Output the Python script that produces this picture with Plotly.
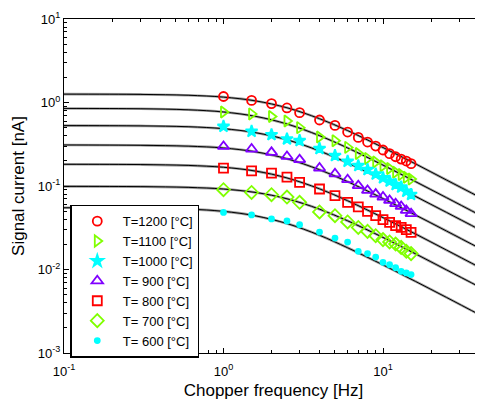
import plotly.graph_objects as go

# measured frequencies [Hz]
freq = [1, 1.5, 2, 2.5, 3, 4, 5, 6, 7, 8, 9, 10, 11, 12, 13, 14, 15]

# signal current [nA] per temperature
i_1200 = [1.18, 1.06, 0.97, 0.86, 0.755, 0.617, 0.532, 0.443, 0.382, 0.336, 0.301, 0.27, 0.244, 0.224, 0.21, 0.199, 0.185]
i_1100 = [0.77, 0.73, 0.68, 0.60, 0.50, 0.386, 0.349, 0.29, 0.245, 0.214, 0.194, 0.175, 0.162, 0.146, 0.137, 0.127, 0.121]
i_1000 = [0.517, 0.451, 0.411, 0.365, 0.349, 0.28, 0.231, 0.197, 0.175, 0.157, 0.139, 0.125, 0.114, 0.104, 0.097, 0.086, 0.079]
i_900 = [0.298, 0.277, 0.253, 0.226, 0.207, 0.164, 0.140, 0.119, 0.101, 0.0886, 0.080, 0.0738, 0.0672, 0.0614, 0.057, 0.051, 0.0467]
i_800 = [0.164, 0.152, 0.143, 0.128, 0.1105, 0.092, 0.0765, 0.0636, 0.0561, 0.0497, 0.0441, 0.0395, 0.0366, 0.0335, 0.0319, 0.030, 0.0278]
i_700 = [0.0903, 0.0838, 0.0787, 0.0738, 0.0637, 0.0489, 0.0441, 0.0371, 0.0319, 0.0286, 0.0254, 0.0228, 0.0214, 0.0202, 0.0184, 0.0165, 0.0155]
i_600 = [0.0483, 0.045, 0.0403, 0.0381, 0.0344, 0.0281, 0.0238, 0.0213, 0.0165, 0.0155, 0.0141, 0.0122, 0.0114, 0.0105, 0.0095, 0.0091, 0.0087]

# fitted curves, sampled along the black lines
fit_freq = [0.1, 0.3, 0.6, 1, 1.6, 2.5, 4, 6, 10, 16, 25, 42.4]
fit_1200 = [1.259, 1.250, 1.221, 1.160, 1.043, 0.865, 0.640, 0.461, 0.289, 0.184, 0.118, 0.070]
fit_1100 = [0.849, 0.842, 0.818, 0.770, 0.681, 0.553, 0.401, 0.2856, 0.1779, 0.1127, 0.0725, 0.0428]
fit_1000 = [0.529, 0.525, 0.513, 0.486, 0.434, 0.358, 0.263, 0.189, 0.1183, 0.0751, 0.0483, 0.0286]
fit_900 = [0.310, 0.307, 0.300, 0.285, 0.256, 0.212, 0.1566, 0.1127, 0.0707, 0.0449, 0.0289, 0.0171]
fit_800 = [0.1818, 0.1806, 0.1764, 0.1676, 0.1506, 0.1249, 0.0925, 0.0666, 0.0418, 0.0266, 0.0171, 0.0101]
fit_700 = [0.0989, 0.0983, 0.0963, 0.0920, 0.0836, 0.0703, 0.0528, 0.0383, 0.0242, 0.0154, 0.0099, 0.00587]
fit_600 = [0.0549, 0.0545, 0.0529, 0.0497, 0.0438, 0.0355, 0.0257, 0.0182, 0.01135, 0.00719, 0.00463, 0.00273]

names = ["T=1200 [°C]", "T=1100 [°C]", "T=1000 [°C]", "T= 900 [°C]", "T= 800 [°C]", "T= 700 [°C]", "T= 600 [°C]"]

x_decades = [-1, 0, 1]
y_decades = [-3, -2, -1, 0, 1]

series = [i_1200, i_1100, i_1000, i_900, i_800, i_700, i_600]
fits = [fit_1200, fit_1100, fit_1000, fit_900, fit_800, fit_700, fit_600]

# marker styles (symbol, colour, size)
styles = [
    ("circle-open", "#ff0000", 9),
    ("triangle-right-open", "#80ff00", 10),
    ("star", "#00ffff", 9),
    ("triangle-up-open", "#8000ff", 10),
    ("square-open", "#ff0000", 9),
    ("diamond-open", "#80ff00", 10),
    ("circle", "#00ffff", 5),
]


def power_label(p):
    return "10<sup>%d</sup>" % p


def minor_vals(decades):
    vals = []
    for d in decades:
        for m in range(2, 10):
            vals.append(m * 10 ** d)
    return vals


fig = go.Figure()

for f in fits:
    fig.add_trace(go.Scatter(x=fit_freq, y=f, mode='lines', showlegend=False,
                             line=dict(color='rgb(160,160,160)', width=2.6, shape='spline'),
                             hoverinfo='skip'))
    fig.add_trace(go.Scatter(x=fit_freq, y=f, mode='lines', showlegend=False,
                             line=dict(color='black', width=1, shape='spline'),
                             hoverinfo='skip'))

for name, ys, (sym, col, sz) in zip(names, series, styles):
    fig.add_trace(go.Scatter(x=freq, y=ys, mode='markers', name=name,
                             marker=dict(symbol=sym, size=sz, color=col,
                                         line=dict(color=col, width=1.8))))

axis_common = dict(
    type='log',
    showgrid=False,
    zeroline=False,
    showline=True,
    linecolor='black',
    linewidth=1,
    mirror='ticks',
    ticks='inside',
    ticklen=5,
    tickcolor='black',
    automargin=False,
    tickfont=dict(size=13, color='black'),
)

# the page body adds 8px around the figure, so the figure is a bit smaller
fig.update_layout(
    width=475, height=392,
    paper_bgcolor='white',
    plot_bgcolor='white',
    font=dict(family='Liberation Sans, Arial, sans-serif', color='black'),
    margin=dict(l=56, r=0, t=11, b=47),
    xaxis=dict(axis_common, range=[-1, 1.627],
               tickmode='array',
               tickvals=[10 ** d for d in x_decades],
               ticktext=[power_label(d) for d in x_decades],
               ticklabelstandoff=6,
               minor=dict(tickmode='array', tickvals=minor_vals(x_decades),
                          ticks='inside', ticklen=3, tickcolor='black', showgrid=False),
               title=dict(text='Chopper frequency [Hz]', font=dict(size=17), standoff=8)),
    yaxis=dict(axis_common, range=[-3, 1],
               tickmode='array',
               tickvals=[10 ** d for d in y_decades],
               ticktext=[power_label(d) for d in y_decades],
               minor=dict(tickmode='array', tickvals=minor_vals(y_decades[:-1]),
                          ticks='inside', ticklen=3, tickcolor='black', showgrid=False),
               title=dict(text='Signal current [nA]', font=dict(size=17), standoff=8)),
    legend=dict(x=0.015, y=-0.014, xanchor='left', yanchor='bottom',
                bgcolor='white', bordercolor='black', borderwidth=1.5,
                font=dict(size=13), tracegroupgap=0, itemwidth=41),
)

fig.write_html("out.html")
